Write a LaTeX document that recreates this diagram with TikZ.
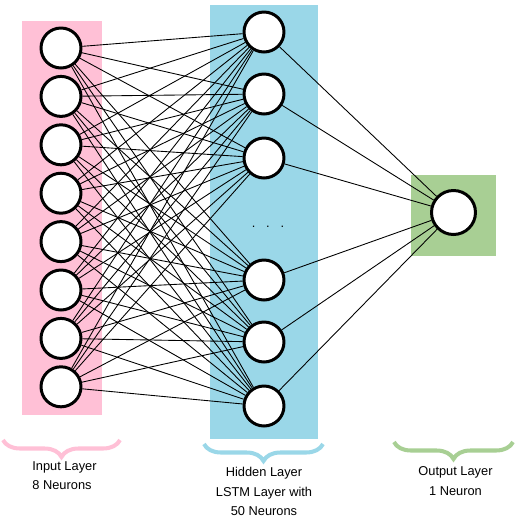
\documentclass[tikz,border=0pt]{standalone}
\usepackage{fontspec}
\setmainfont{Liberation Sans}
\usetikzlibrary{decorations.pathreplacing}

\definecolor{inpink}{RGB}{255,192,214}
\definecolor{hidblue}{RGB}{154,215,232}
\definecolor{outgreen}{RGB}{168,207,148}

\tikzset{
  neuron/.style={circle, draw, line width=1.7pt, fill=white, minimum size=0.8cm, inner sep=0pt},
  link/.style={line width=0.5pt},
  layerbrace/.style={line width=2.3pt, decorate, decoration={brace, mirror, amplitude=0.34cm}},
  caption/.style={font=\fontsize{7.3}{11.1}\selectfont, inner sep=0pt, anchor=north}
}

\begin{document}
\begin{tikzpicture}[x=0.02cm, y=-0.02cm]
\useasboundingbox (0,0) rectangle (520,525);

% layer boxes
\fill[inpink] (22,21) rectangle (102,415);
\fill[hidblue] (210,5) rectangle (318,439);
\fill[outgreen] (411,175) rectangle (496,256);

% neurons
\foreach \i in {1,...,8}
   \node[neuron] (in\i) at (61, 48.4*\i-0.4) {};
\foreach \y [count=\j] in {32,94,158,280,342,406}
   \node[neuron] (hid\j) at (264, \y) {};
\node[neuron, minimum size=0.88cm] (out) at (453.5, 212.5) {};
\node[caption, anchor=center] (dots) at (268, 227) {.\hspace{6.2pt}.\hspace{6.2pt}.};

% connections
\foreach \i in {1,...,8} {
  \foreach \j in {1,...,6}
     \draw[link] (in\i) -- (hid\j);
};
\foreach \j in {1,...,6}
   \draw[link] (hid\j) -- (out);

% braces and captions
\draw[layerbrace, inpink] (3,440) -- (120,440);
\draw[layerbrace, hidblue] (204,444) -- (323,444);
\draw[layerbrace, outgreen] (394,442) -- (513,442);

\node[caption, align=left] (inlabel) at (64.5, 461) {Input Layer\\8 Neurons};
\node[caption, align=center] (hidlabel) at (264, 467) {Hidden Layer\\LSTM Layer with\\50 Neurons};
\node[caption, align=center] (outlabel) at (455.5, 466.5) {Output Layer\\1 Neuron};

\end{tikzpicture}
\end{document}
